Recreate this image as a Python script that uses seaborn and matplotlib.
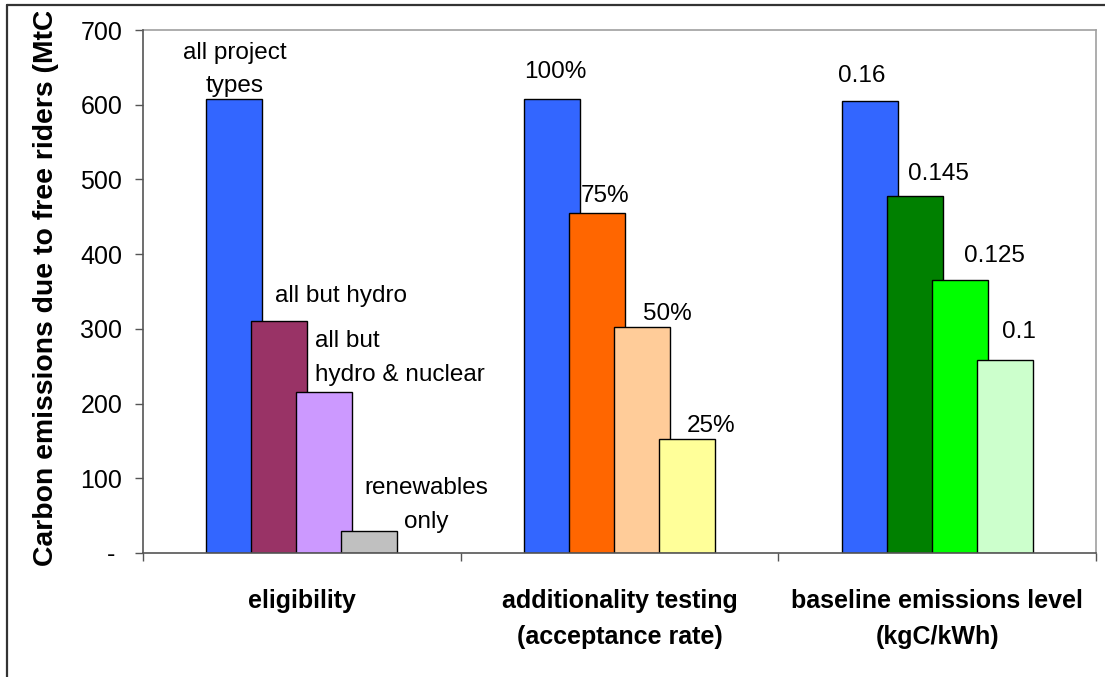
import matplotlib
matplotlib.use("Agg")
import matplotlib.pyplot as plt
from matplotlib.lines import Line2D
from matplotlib.transforms import Bbox
import seaborn as sns
import pandas as pd

# ---- data -------------------------------------------------------------
categories = [
    "eligibility",
    "additionality testing\n(acceptance rate)",
    "baseline emissions level\n(kgC/kWh)",
]
eligibility_values = [607, 311, 216, 30]
additionality_values = [607, 455, 303, 152]
baseline_values = [605, 478, 365, 258]

eligibility_labels = ["all project\ntypes", "all but hydro", "all but\nhydro & nuclear", "renewables\nonly"]
additionality_labels = ["100%", "75%", "50%", "25%"]
baseline_labels = ["0.16", "0.145", "0.125", "0.1"]

eligibility_colors = ["#3366FF", "#993366", "#CC99FF", "#C0C0C0"]
additionality_colors = ["#3366FF", "#FF6600", "#FFCC99", "#FFFF99"]
baseline_colors = ["#3366FF", "#008000", "#00FF00", "#CCFFCC"]

y_ticks = [0, 100, 200, 300, 400, 500, 600, 700]
y_tick_labels = ["- ", "100", "200", "300", "400", "500", "600", "700"]
y_label = "Carbon emissions due to free riders (MtC)"

# ---- long table ---------------------------------------------------------
slots = ["s0", "s1", "s2", "s3"]
values_by_group = [eligibility_values, additionality_values, baseline_values]
labels_by_group = [eligibility_labels, additionality_labels, baseline_labels]
colors_by_group = [eligibility_colors, additionality_colors, baseline_colors]
rows = []
for g, vals in zip(categories, values_by_group):
    for s, v in zip(slots, vals):
        rows.append({"group": g, "slot": s, "value": v})
df = pd.DataFrame(rows)

# ---- style --------------------------------------------------------------
sns.set_style("white")
plt.rcParams["font.family"] = ["Liberation Sans", "DejaVu Sans"]
plt.rcParams["text.color"] = "black"
plt.rcParams["xtick.color"] = "black"
plt.rcParams["ytick.color"] = "black"
plt.rcParams["xtick.labelcolor"] = "black"
plt.rcParams["ytick.labelcolor"] = "black"

W, H = 1105, 677
fig = plt.figure(figsize=(W / 100, H / 100), dpi=100)
ax_l, ax_r, ax_t, ax_b = 143, 1096, 30, 553
ax = fig.add_axes([ax_l / W, (H - ax_b) / H, (ax_r - ax_l) / W, (ax_b - ax_t) / H])

cat_px = (ax_r - ax_l) / 3.0
step = 45 / cat_px        # spacing between overlapping bars
bar_w = 56 / cat_px       # drawn bar width

sns.barplot(
    data=df, x="group", y="value", hue="slot", order=categories, hue_order=slots,
    width=4 * step, dodge=True, palette=["#3366FF"] * 4, saturation=1,
    edgecolor="black", linewidth=1.0, legend=False, ax=ax,
)

# widen bars so neighbours overlap, and colour each bar
for k, cont in enumerate(ax.containers):
    for j, patch in enumerate(cont.patches):
        cx = patch.get_x() + patch.get_width() / 2
        patch.set_width(bar_w)
        patch.set_x(cx - bar_w / 2)
        patch.set_facecolor(colors_by_group[j][k])
        patch.set_edgecolor("black")
        patch.set_zorder(2 + k)

ax.set_xlim(-0.5, 2.5)
ax.set_ylim(0, 700)

# ---- axes frame ---------------------------------------------------------
for side in ["top", "right"]:
    ax.spines[side].set_visible(True)
    ax.spines[side].set_color("#A0A0A0")
    ax.spines[side].set_linewidth(1.2)
for side in ["left", "bottom"]:
    ax.spines[side].set_visible(True)
    ax.spines[side].set_color("#555555")
    ax.spines[side].set_linewidth(1.2)
    ax.spines[side].set_zorder(10)

ax.set_yticks(y_ticks)
ax.set_yticklabels(y_tick_labels, fontsize=18)
ax.tick_params(axis="y", direction="out", length=6, width=1, color="#555555", pad=9, left=True)

ax.set_xticks([0, 1, 2])
ax.set_xticklabels(categories, fontsize=18, fontweight="bold", linespacing=1.6)
ax.set_xticks([-0.5, 0.5, 1.5, 2.5], minor=True)
ax.tick_params(axis="x", which="major", length=0, pad=26)
ax.tick_params(axis="x", which="minor", direction="out", length=6, width=1, color="#555555", bottom=True)
ax.set_xlabel("")
ax.set_ylabel("")

# ---- bar annotations ------------------------------------------------------
# (dx, dy, ha, va) offsets in pixels from the top centre of each bar
offsets = [
    [(0, 2, "center", "bottom"), (62, 25, "center", "center"), (-9, 34, "left", "center"), (57, 26, "center", "center")],
    [(3, 27, "center", "center"), (8, 17, "center", "center"), (25, 13, "center", "center"), (24, 13, "center", "center")],
    [(-8, 25, "center", "center"), (24, 22, "center", "center"), (35, 24, "center", "center"), (14, 28, "center", "center")],
]
for k, cont in enumerate(ax.containers):
    for j, patch in enumerate(cont.patches):
        dx, dy, ha, va = offsets[j][k]
        ax.annotate(
            labels_by_group[j][k],
            xy=(patch.get_x() + patch.get_width() / 2, patch.get_height()),
            xytext=(dx, dy), textcoords="offset pixels",
            ha=ha, va=va, fontsize=17.5, linespacing=1.7, color="black",
            multialignment=ha if ha != "center" else "center",
            zorder=20, annotation_clip=False,
        )

# ---- y axis title (clipped at the chart border) ---------------------------
yl = fig.text(46 / W, (H - 283) / H, y_label, rotation=90, ha="center", va="center",
              fontsize=20.4, fontweight="bold", color="black")
yl.set_clip_box(Bbox.from_extents(0, 0, W, H - 12))
yl.set_clip_on(True)

# ---- outer chart border -----------------------------------------------------
fig.add_artist(Line2D([7 / W, 7 / W], [0, (H - 5) / H], color="#333333", lw=1.6))
fig.add_artist(Line2D([7 / W, 1.0], [(H - 5) / H, (H - 5) / H], color="#333333", lw=1.6))

fig.savefig("out.png", dpi=100)
